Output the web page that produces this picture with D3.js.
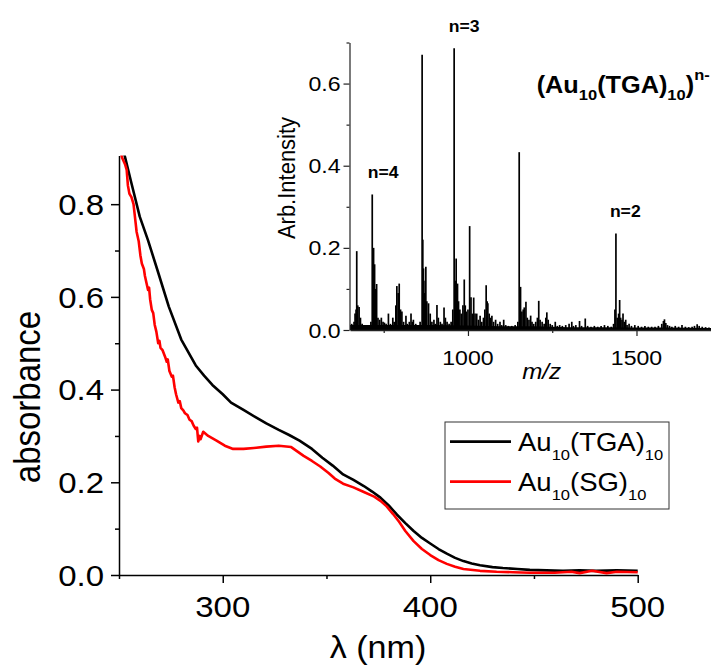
<!DOCTYPE html>
<html><head><meta charset="utf-8">
<script src="https://cdn.jsdelivr.net/npm/d3@7/dist/d3.min.js"></script>
<style>
html,body{margin:0;padding:0;background:#fff;}
svg{display:block;font-family:Arial,"Liberation Sans",sans-serif;}
</style></head>
<body><svg id="chart" width="711" height="666"></svg>
<script>
// ---------- DATA ----------
// UV-vis absorbance, Au10(TGA)10 (black)
const tgaWl  = [250,253,256,260,264,269,274,280,287,291,295,300,304,310,316,321,327,332,337,343,348,353,358,363,368,372,376,380,384,388,392,396,400,404,408,412,416,420,424,430,435,442,448,456,464,472,480,490,500];
const tgaAbs = [0.95,0.90,0.845,0.773,0.722,0.651,0.579,0.508,0.452,0.430,0.410,0.390,0.372,0.356,0.340,0.327,0.313,0.302,0.290,0.272,0.253,0.236,0.217,0.205,0.192,0.180,0.167,0.150,0.130,0.112,0.095,0.080,0.068,0.056,0.046,0.037,0.030,0.025,0.021,0.017,0.015,0.013,0.011,0.010,0.009,0.010,0.009,0.010,0.009];
// UV-vis absorbance, Au10(SG)10 (red)
const sgWl  = [250,251.5,253,253.7,254.3,255,256,257,258,258.5,259.5,260.3,261,262,262.5,263.3,264,264.5,265,265.8,266.5,267.2,268,268.9,269.5,270,271,272.2,273,273.5,274.3,275.4,276,276.8,277.5,278.6,279.3,280,281,281.8,283,284,285,286,287,287.6,288.2,288.8,289.3,290.6,293,297,301,305,310,315,321,327,333,339,343,347,351,354,358,363,368,373,376,379,382,385,388,392,396,400,404,408,412,416,424,432,440,448,460,468,472,478,485,490,500];
const sgAbs = [0.93,0.90,0.885,0.874,0.84,0.823,0.815,0.80,0.76,0.74,0.72,0.69,0.672,0.66,0.645,0.629,0.615,0.62,0.595,0.572,0.565,0.54,0.525,0.50,0.505,0.49,0.485,0.471,0.46,0.465,0.44,0.428,0.43,0.405,0.39,0.372,0.375,0.36,0.355,0.349,0.345,0.335,0.332,0.322,0.315,0.318,0.288,0.30,0.293,0.309,0.30,0.29,0.279,0.272,0.272,0.274,0.277,0.279,0.276,0.257,0.246,0.234,0.220,0.208,0.197,0.189,0.179,0.169,0.160,0.148,0.132,0.115,0.095,0.073,0.056,0.043,0.032,0.024,0.018,0.013,0.009,0.007,0.006,0.005,0.005,0.007,0.004,0.009,0.004,0.007,0.006];

const xTicksMain = [300,400,500];
const xMinorMain = [250,350,450];
const yTicksMain = [0.0,0.2,0.4,0.6,0.8];
const yMinorMain = [0.1,0.3,0.5,0.7];

// Mass spectrum (inset): peak m/z and intensity
const msMz  = [655,662,665,668,670,673,677,681,686,695,705,712,716,720,723,726,729,733,738,743,748,752,757,764,770,777,781,786,789,793,796,800,804,809,816,820,826,831,835,838,845,852,858,864,866,868,870,873,875,878,883,888,893,899,903,908,912,918,923,929,933,938,944,950,955,959,962,965,969,972,976,980,985,989,992,995,1000,1005,1009,1013,1017,1021,1026,1031,1036,1041,1046,1050,1054,1057,1059,1063,1067,1071,1076,1082,1088,1095,1100,1106,1112,1120,1130,1140,1148,1152,1156,1160,1164,1167,1172,1176,1181,1186,1190,1195,1201,1206,1210,1214,1220,1226,1231,1234,1238,1244,1250,1259,1265,1272,1280,1290,1300,1308,1313,1320,1331,1337,1348,1355,1365,1375,1385,1395,1405,1415,1425,1432,1436,1439,1443,1447,1450,1453,1457,1460,1464,1468,1472,1478,1485,1495,1505,1515,1525,1535,1545,1555,1565,1575,1580,1583,1587,1592,1598,1605,1615,1625,1635,1645,1655,1665,1672,1680,1686,1695,1705,1715,1725];
const msInt = [0.015,0.02,0.04,0.05,0.192,0.06,0.056,0.03,0.015,0.012,0.01,0.02,0.33,0.2,0.16,0.1,0.112,0.03,0.025,0.03,0.02,0.018,0.015,0.04,0.015,0.03,0.02,0.06,0.107,0.09,0.113,0.05,0.045,0.02,0.035,0.015,0.02,0.04,0.02,0.025,0.015,0.012,0.02,0.67,0.22,0.15,0.09,0.12,0.154,0.07,0.065,0.04,0.02,0.025,0.015,0.061,0.03,0.02,0.015,0.055,0.03,0.02,0.015,0.02,0.05,0.686,0.12,0.174,0.113,0.07,0.05,0.04,0.06,0.123,0.06,0.045,0.05,0.253,0.08,0.04,0.079,0.04,0.04,0.025,0.035,0.02,0.03,0.05,0.109,0.07,0.065,0.04,0.03,0.035,0.02,0.025,0.015,0.02,0.012,0.025,0.012,0.01,0.01,0.012,0.02,0.433,0.105,0.045,0.05,0.055,0.069,0.03,0.025,0.035,0.02,0.015,0.02,0.03,0.071,0.025,0.02,0.015,0.03,0.043,0.025,0.015,0.012,0.02,0.01,0.012,0.01,0.012,0.015,0.02,0.01,0.012,0.022,0.01,0.028,0.01,0.008,0.01,0.008,0.01,0.012,0.01,0.008,0.015,0.05,0.235,0.03,0.04,0.073,0.03,0.025,0.04,0.02,0.025,0.012,0.015,0.01,0.012,0.01,0.008,0.01,0.008,0.008,0.008,0.01,0.015,0.022,0.026,0.017,0.012,0.01,0.008,0.01,0.008,0.012,0.008,0.007,0.008,0.01,0.014,0.01,0.008,0.007,0.006,0.006];
// noise floor of the spectrum
const msFloorMz  = [650,700,800,900,1000,1100,1200,1300,1400,1500,1600,1727];
const msFloorInt = [0.012,0.012,0.012,0.012,0.011,0.009,0.009,0.007,0.007,0.006,0.006,0.005];

const xTicksIns = [1000,1500];
const xMinorIns = [750,1250];
const yTicksIns = [0.0,0.2,0.4,0.6];
const yMinorIns = [0.1,0.3,0.5,0.7];

const peakLabels = [
  {t:"n=4", mz:719, v:0.33},
  {t:"n=3", mz:959, v:0.686},
  {t:"n=2", mz:1440, v:0.235}
];

// ---------- DRAW ----------
const svg = d3.select("#chart");
const SX = 1.1; // horizontal text stretch of the original
svg.append("rect").attr("width",711).attr("height",666).attr("fill","#fff");

function txt(parent, x, y, s, size, anchor, extra){
  const g = parent.append("g").attr("transform",`translate(${x},${y}) scale(${SX},1)` + (extra||""));
  return g.append("text").attr("font-size",size).attr("text-anchor",anchor||"start").attr("fill","#000").text(s);
}

// Main chart scales
const x = d3.scaleLinear().domain([250,500]).range([119,637.7]);
const y = d3.scaleLinear().domain([0,0.905]).range([575,155.5]);

svg.append("defs").append("clipPath").attr("id","clipMain")
  .append("rect").attr("x",119).attr("y",155.5).attr("width",525).attr("height",420);

const axMain = svg.append("g").attr("stroke","#000");
const gx = svg.append("g").attr("transform","translate(0,575)");
gx.call(d3.axisBottom(x).tickValues(xTicksMain).tickSize(8).tickSizeOuter(0).tickFormat(""));
gx.call(g=>g.selectAll(".tick line").attr("stroke","#000").attr("stroke-width",1.5));
gx.select(".domain").attr("stroke","#000").attr("stroke-width",1.5);
const gxm = svg.append("g").attr("transform","translate(0,575)");
gxm.call(d3.axisBottom(x).tickValues(xMinorMain).tickSize(4).tickSizeOuter(0).tickFormat(""));
gxm.select(".domain").remove();
gxm.selectAll(".tick line").attr("stroke","#000").attr("stroke-width",1.5);

const gy = svg.append("g").attr("transform","translate(119,0)");
gy.call(d3.axisLeft(y).tickValues(yTicksMain).tickSize(8).tickSizeOuter(0).tickFormat(""));
gy.selectAll(".tick line").attr("stroke","#000").attr("stroke-width",1.5);
gy.select(".domain").attr("stroke","#000").attr("stroke-width",1.5);
const gym = svg.append("g").attr("transform","translate(119,0)");
gym.call(d3.axisLeft(y).tickValues(yMinorMain).tickSize(4).tickSizeOuter(0).tickFormat(""));
gym.select(".domain").remove();
gym.selectAll(".tick line").attr("stroke","#000").attr("stroke-width",1.5);

xTicksMain.forEach(v=>txt(svg, x(v), 616.5, d3.format("d")(v), 30, "middle"));
yTicksMain.forEach(v=>txt(svg, 104, y(v)+10.7, d3.format(".1f")(v), 30, "end"));

txt(svg, 40, 397, "absorbance", 33, "middle", " rotate(-90)");
txt(svg, 378, 658, "λ (nm)", 31, "middle");

const line = d3.line().x(d=>x(d[0])).y(d=>y(d[1]));
const plotMain = svg.append("g").attr("clip-path","url(#clipMain)");
plotMain.append("path").datum(d3.zip(tgaWl,tgaAbs)).attr("d",line)
  .attr("fill","none").attr("stroke","#000").attr("stroke-width",2.6).attr("stroke-linejoin","round");
plotMain.append("path").datum(d3.zip(sgWl,sgAbs)).attr("d",line)
  .attr("fill","none").attr("stroke","#ff0000").attr("stroke-width",2.6).attr("stroke-linejoin","round");

// Legend
const leg = svg.append("g");
leg.append("rect").attr("x",445).attr("y",422).attr("width",224).attr("height",87)
  .attr("fill","#fff").attr("stroke","#333").attr("stroke-width",1);
const legItems = [{c:"#000", name:"(TGA)", ly:441.7},{c:"#ff0000", name:"(SG)", ly:481.7}];
legItems.forEach(it=>{
  leg.append("line").attr("x1",450).attr("x2",511).attr("y1",it.ly).attr("y2",it.ly)
    .attr("stroke",it.c).attr("stroke-width",2.8);
  const t = txt(leg, 518, it.ly+9.5, "Au", 25, "start");
  t.append("tspan").attr("font-size",15).attr("dy",9).text("10");
  t.append("tspan").attr("font-size",25).attr("dy",-9).text(it.name);
  t.append("tspan").attr("font-size",15).attr("dy",9).text("10");
});

// ---------- INSET ----------
const xi = d3.scaleLinear().domain([650,1727]).range([350,713]);
const yi = d3.scaleLinear().domain([0,0.7]).range([330,42.5]);

const ins = svg.append("g");
// floor
ins.append("path").datum(d3.zip(msFloorMz,msFloorInt))
  .attr("d", d3.area().x(d=>xi(d[0])).y0(yi(0)).y1(d=>yi(d[1])))
  .attr("fill","#000");
// peaks
ins.selectAll("line.pk").data(d3.zip(msMz,msInt)).join("line").attr("class","pk")
  .attr("x1",d=>xi(d[0])).attr("x2",d=>xi(d[0]))
  .attr("y1",yi(0)).attr("y2",d=>yi(d[1]))
  .attr("stroke","#000").attr("stroke-width",1.7);

const gxi = ins.append("g").attr("transform","translate(0,330)");
gxi.call(d3.axisBottom(xi).tickValues(xTicksIns).tickSize(6).tickSizeOuter(0).tickFormat(""));
gxi.select(".domain").attr("stroke","#222").attr("stroke-width",1.5);
gxi.selectAll(".tick line").attr("stroke","#222").attr("stroke-width",1.2);
const gxim = ins.append("g").attr("transform","translate(0,330)");
gxim.call(d3.axisBottom(xi).tickValues(xMinorIns).tickSize(3).tickSizeOuter(0).tickFormat(""));
gxim.select(".domain").remove();
gxim.selectAll(".tick line").attr("stroke","#222").attr("stroke-width",1.2);

const gyi = ins.append("g").attr("transform","translate(349.5,0)");
gyi.call(d3.axisLeft(yi).tickValues(yTicksIns).tickSize(6).tickSizeOuter(0).tickFormat(""));
gyi.select(".domain").attr("stroke","#222").attr("stroke-width",1.2);
gyi.selectAll(".tick line").attr("stroke","#222").attr("stroke-width",1.2);
const gyim = ins.append("g").attr("transform","translate(349.5,0)");
gyim.call(d3.axisLeft(yi).tickValues(yMinorIns).tickSize(3).tickSizeOuter(0).tickFormat(""));
gyim.select(".domain").remove();
gyim.selectAll(".tick line").attr("stroke","#222").attr("stroke-width",1.2);

xTicksIns.forEach(v=>txt(ins, xi(v), 365, d3.format("d")(v), 21, "middle"));
yTicksIns.forEach(v=>txt(ins, 340.5, yi(v)+7.5, d3.format(".1f")(v), 21, "end"));

txt(ins, 295, 178, "Arb.Intensity", 22, "middle", " rotate(-90)");
txt(ins, 541.7, 379, "m/z", 22, "middle").attr("font-style","italic");

peakLabels.forEach(p=>{
  txt(ins, xi(p.mz)+(p.t==="n=4"?10:(p.t==="n=3"?10:9)), yi(p.v)-16, p.t, 16, "middle").attr("font-weight","bold");
});

const tt = txt(ins, 536.7, 93, "(Au", 23, "start").attr("font-weight","bold");
tt.append("tspan").attr("font-size",15).attr("dy",7).text("10");
tt.append("tspan").attr("font-size",23).attr("dy",-7).text("(TGA)");
tt.append("tspan").attr("font-size",15).attr("dy",7).text("10");
tt.append("tspan").attr("font-size",23).attr("dy",-7).text(")");
tt.append("tspan").attr("font-size",15).attr("dy",-13).text("n-");
</script></body></html>
